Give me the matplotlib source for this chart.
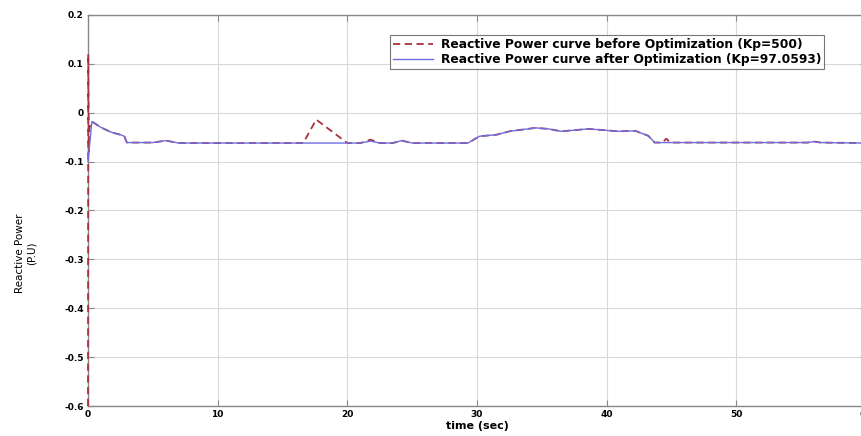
import matplotlib
matplotlib.use("Agg")
import matplotlib.pyplot as plt

# ---- data ----
t_before = [0, 0.02, 0.06, 0.12, 0.3, 1.0, 1.8, 2.5, 2.8, 3.0, 5.0, 6.0, 7.0,
            16.6, 17.6, 20.0, 21.0, 21.8, 22.5, 23.5, 24.2, 25.0, 29.3, 30.2,
            31.5, 32.5, 34.5, 35.5, 36.5, 38.6, 40.9, 42.2, 43.2, 43.7, 44.3,
            44.6, 44.9, 55.5, 56.0, 56.5, 60]
y_before = [-0.6, 0.12, -0.08, -0.03, -0.018, -0.03, -0.04, -0.045, -0.048,
            -0.061, -0.061, -0.057, -0.062, -0.062, -0.014, -0.062, -0.062,
            -0.055, -0.062, -0.062, -0.057, -0.062, -0.062, -0.048, -0.045,
            -0.038, -0.031, -0.033, -0.038, -0.033, -0.038, -0.037, -0.047,
            -0.061, -0.061, -0.053, -0.061, -0.061, -0.059, -0.061, -0.062]

t_after = [0, 0.3, 1.0, 1.8, 2.5, 2.8, 3.0, 5.0, 6.0, 7.0, 21.0, 21.8, 22.5,
           23.5, 24.2, 25.0, 29.3, 30.2, 31.5, 32.5, 34.5, 35.5, 36.5, 38.6,
           40.9, 42.2, 43.2, 43.7, 55.5, 56.0, 56.5, 60]
y_after = [-0.1, -0.018, -0.03, -0.04, -0.045, -0.048, -0.061, -0.061, -0.057,
           -0.062, -0.062, -0.058, -0.062, -0.062, -0.057, -0.062, -0.062,
           -0.048, -0.045, -0.038, -0.031, -0.033, -0.038, -0.033, -0.038,
           -0.037, -0.047, -0.061, -0.061, -0.059, -0.061, -0.062]

x_ticks = [0, 10, 20, 30, 40, 50, 60]
y_ticks = [0.2, 0.1, 0, -0.1, -0.2, -0.3, -0.4, -0.5, -0.6]
label_before = "Reactive Power curve before Optimization (Kp=500)"
label_after = "Reactive Power curve after Optimization (Kp=97.0593)"

fig = plt.figure(figsize=(8.62, 4.36), dpi=100)
ax = fig.add_axes([88 / 862, 1 - 406 / 436, 778 / 862, 391 / 436])

ax.plot(t_before, y_before, linestyle=(0, (4, 2.5)), color="#a8323c", lw=1.3,
        label=label_before, zorder=3, clip_on=False)
ax.plot(t_after, y_after, linestyle="-", color="#6e6ee0", lw=1.0,
        label=label_after, zorder=3.5, clip_on=False)

ax.set_xlim(0, 60)
ax.set_ylim(-0.6, 0.2)
ax.set_xticks(x_ticks)
ax.set_yticks(y_ticks)
ax.set_xticklabels([str(v) for v in x_ticks])
ax.set_yticklabels(["%g" % v for v in y_ticks])
ax.grid(True, color="#d8d8d8", lw=0.8)
ax.set_axisbelow(True)
for s in ax.spines.values():
    s.set_color("#888888")
    s.set_linewidth(1.0)
ax.tick_params(direction="in", top=True, right=True, length=4,
               color="#888888", labelsize=6.5, pad=3)
for lab in ax.get_xticklabels() + ax.get_yticklabels():
    lab.set_fontweight("bold")

ax.set_xlabel("time (sec)", fontsize=8, fontweight="bold", labelpad=1)
fig.text(0.030, 0.42, "Reactive Power\n(P.U)", rotation=90, ha="center",
         va="center", fontsize=7.5, linespacing=1.2)

leg = ax.legend(loc="upper right", bbox_to_anchor=(824 / 778 - 88 / 778, 1 - 20 / 391),
                bbox_transform=ax.transAxes,
                prop={"weight": "bold", "size": 8.8}, frameon=True, fancybox=False,
                edgecolor="#555555", handlelength=3.3, borderpad=0.25,
                labelspacing=0.15, handletextpad=0.6, borderaxespad=0)
leg.get_frame().set_linewidth(0.8)

fig.savefig("out.png", dpi=100)
